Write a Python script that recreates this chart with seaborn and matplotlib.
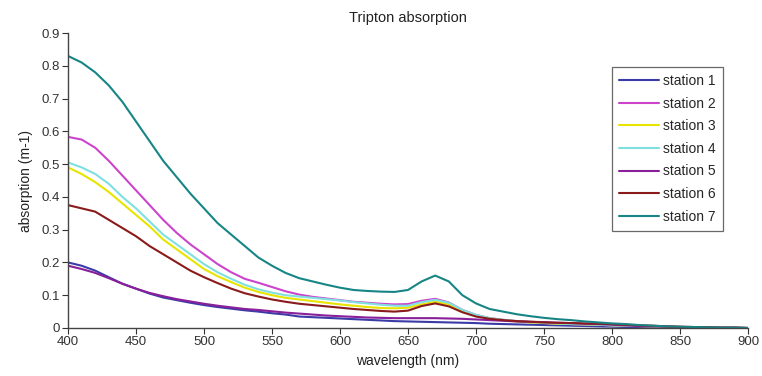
import matplotlib
matplotlib.use("Agg")
import matplotlib.pyplot as plt
import seaborn as sns
import pandas as pd

wavelength = [400, 410, 420, 430, 440, 450, 460, 470, 480, 490,
              500, 510, 520, 530, 540, 550, 560, 570, 580, 590,
              600, 610, 620, 630, 640, 650, 660, 670, 680, 690,
              700, 710, 720, 730, 740, 750, 760, 770, 780, 790,
              800, 810, 820, 830, 840, 850, 860, 870, 880, 890, 900]

station1 = [0.200, 0.190, 0.175, 0.155, 0.135, 0.120, 0.105, 0.093, 0.085, 0.077,
            0.070, 0.064, 0.059, 0.054, 0.050, 0.045, 0.041, 0.035, 0.033, 0.031,
            0.029, 0.027, 0.025, 0.023, 0.021, 0.020, 0.019, 0.018, 0.017, 0.016,
            0.015, 0.013, 0.012, 0.011, 0.010, 0.009, 0.008, 0.007, 0.006, 0.005,
            0.004, 0.003, 0.003, 0.002, 0.002, 0.001, 0.001, 0.001, 0.000, 0.000, 0.000]
station2 = [0.583, 0.575, 0.550, 0.510, 0.465, 0.420, 0.375, 0.330, 0.290, 0.255,
            0.225, 0.195, 0.170, 0.150, 0.138, 0.125, 0.112, 0.102, 0.095, 0.090,
            0.085, 0.080, 0.077, 0.074, 0.072, 0.073, 0.083, 0.089, 0.078, 0.055,
            0.040, 0.030, 0.025, 0.021, 0.018, 0.016, 0.014, 0.012, 0.011, 0.010,
            0.008, 0.007, 0.006, 0.005, 0.004, 0.003, 0.002, 0.002, 0.001, 0.001, 0.000]
station3 = [0.490, 0.470, 0.445, 0.415, 0.380, 0.345, 0.310, 0.270, 0.240, 0.210,
            0.180, 0.158, 0.140, 0.123, 0.110, 0.100, 0.092, 0.087, 0.082, 0.077,
            0.072, 0.068, 0.064, 0.061, 0.060, 0.062, 0.072, 0.080, 0.072, 0.052,
            0.038, 0.029, 0.024, 0.020, 0.017, 0.015, 0.013, 0.012, 0.011, 0.010,
            0.008, 0.007, 0.006, 0.005, 0.004, 0.003, 0.002, 0.002, 0.001, 0.001, 0.000]
station4 = [0.505, 0.490, 0.470, 0.440, 0.400, 0.365, 0.325, 0.285, 0.255, 0.225,
            0.195, 0.170, 0.150, 0.132, 0.118, 0.108, 0.100, 0.096, 0.092, 0.088,
            0.084, 0.079, 0.075, 0.071, 0.068, 0.068, 0.079, 0.086, 0.077, 0.055,
            0.040, 0.030, 0.025, 0.021, 0.018, 0.016, 0.014, 0.012, 0.011, 0.010,
            0.008, 0.007, 0.006, 0.005, 0.004, 0.003, 0.002, 0.002, 0.001, 0.001, 0.000]
station5 = [0.190, 0.180, 0.168, 0.152, 0.135, 0.120, 0.107, 0.097, 0.088, 0.081,
            0.074, 0.068, 0.063, 0.058, 0.055, 0.051, 0.047, 0.044, 0.041, 0.038,
            0.036, 0.034, 0.032, 0.031, 0.030, 0.030, 0.030, 0.030, 0.029, 0.028,
            0.026, 0.024, 0.022, 0.020, 0.019, 0.018, 0.016, 0.015, 0.013, 0.012,
            0.010, 0.008, 0.006, 0.005, 0.004, 0.003, 0.002, 0.002, 0.001, 0.001, 0.000]
station6 = [0.375, 0.365, 0.355, 0.330, 0.305, 0.280, 0.250, 0.225, 0.200, 0.175,
            0.155, 0.137, 0.120, 0.106, 0.096, 0.087, 0.080, 0.074, 0.070, 0.066,
            0.062, 0.058, 0.055, 0.052, 0.050, 0.053, 0.067, 0.075, 0.066, 0.048,
            0.035, 0.028, 0.024, 0.021, 0.019, 0.017, 0.016, 0.015, 0.014, 0.013,
            0.012, 0.010, 0.008, 0.007, 0.005, 0.004, 0.003, 0.002, 0.001, 0.001, 0.000]
station7 = [0.830, 0.810, 0.780, 0.740, 0.690, 0.630, 0.570, 0.510, 0.460, 0.410,
            0.365, 0.320, 0.285, 0.250, 0.215, 0.190, 0.168, 0.152, 0.142, 0.132,
            0.123, 0.116, 0.113, 0.111, 0.110, 0.116, 0.142, 0.160, 0.142, 0.100,
            0.075, 0.058, 0.050, 0.042, 0.036, 0.031, 0.027, 0.024, 0.020, 0.017,
            0.014, 0.012, 0.009, 0.007, 0.005, 0.004, 0.003, 0.002, 0.001, 0.001, 0.000]

labels = ["station 1", "station 2", "station 3", "station 4",
          "station 5", "station 6", "station 7"]
series = [station1, station2, station3, station4, station5, station6, station7]
colors = ["#3b3ba8", "#cc44cc", "#e8e400", "#80e0e0", "#8a1f9a", "#8b1a1a", "#178585"]

rows = []
for lab, vals in zip(labels, series):
    for w, v in zip(wavelength, vals):
        rows.append({"wavelength": w, "absorption": v, "station": lab})
df = pd.DataFrame(rows)

sns.set_style("ticks")
plt.rcParams["font.family"] = ["Liberation Sans", "DejaVu Sans"]

fig = plt.figure(figsize=(7.62, 3.76), dpi=100)
ax = fig.add_axes([68 / 762, 1 - 328 / 376, 680 / 762, 295 / 376])

sns.lineplot(data=df, x="wavelength", y="absorption", hue="station",
             hue_order=labels, palette=colors, linewidth=1.5, ax=ax, legend=True)

ax.set_xlim(400, 900)
ax.set_ylim(0, 0.9)
ax.set_xticks([400, 450, 500, 550, 600, 650, 700, 750, 800, 850, 900])
ax.set_yticks([0, 0.1, 0.2, 0.3, 0.4, 0.5, 0.6, 0.7, 0.8, 0.9])
ax.set_yticklabels(["0", "0.1", "0.2", "0.3", "0.4", "0.5", "0.6", "0.7", "0.8", "0.9"])
ax.tick_params(axis="both", labelsize=9.5, colors="#333333", length=4, width=0.8, pad=2)
for s in ["top", "right"]:
    ax.spines[s].set_visible(False)
for s in ["left", "bottom"]:
    ax.spines[s].set_color("#444444")
    ax.spines[s].set_linewidth(1.0)

ax.set_xlabel("wavelength (nm)", fontsize=10, color="#222222", labelpad=4)
ax.set_ylabel("absorption (m-1)", fontsize=10, color="#222222", labelpad=6)
ax.set_title("Tripton absorption", fontsize=10.5, color="#222222", pad=8)

leg = ax.legend(loc="upper left", bbox_to_anchor=(612 / 762, 1 - 67 / 376),
                bbox_transform=fig.transFigure, frameon=True, fancybox=False,
                fontsize=10, handlelength=2.9, labelspacing=0.62, borderpad=0.5,
                handletextpad=0.3, borderaxespad=0)
leg.get_frame().set_edgecolor("#444444")
leg.get_frame().set_linewidth(0.9)
for line in leg.get_lines():
    line.set_linewidth(1.5)

fig.savefig("out.png", dpi=100)
